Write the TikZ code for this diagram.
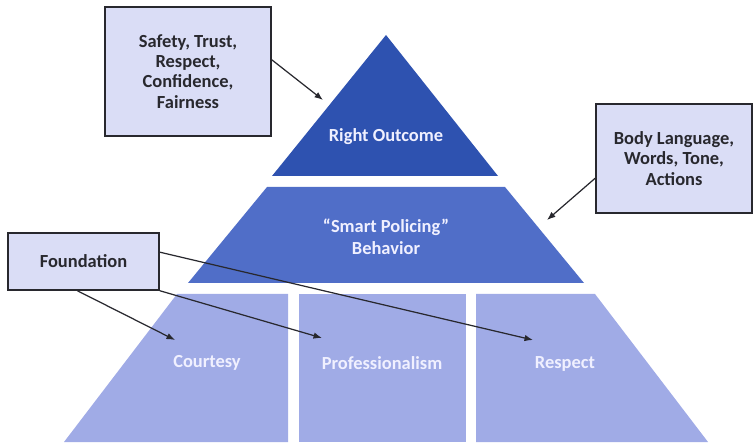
\documentclass[tikz,border=0pt]{standalone}
\usepackage{fontspec}
\setmainfont{Carlito}
\usetikzlibrary{arrows.meta}

\definecolor{topblue}{RGB}{46,82,176}
\definecolor{midblue}{RGB}{80,110,200}
\definecolor{lowblue}{RGB}{160,171,230}
\definecolor{boxfill}{RGB}{218,221,246}
\definecolor{inkgray}{RGB}{40,40,46}

\begin{document}
\begin{tikzpicture}[>={Latex[length=3.4mm,width=2.6mm]},
    text box/.style={draw=inkgray, line width=1.6pt, fill=boxfill, align=center, text=inkgray, font=\bfseries\fontsize{21}{23}\selectfont},
    level label/.style={align=center, text=white!94!blue, font=\bfseries\fontsize{21}{24.6}\selectfont},
    pointer/.style={->, draw=inkgray, line width=1.4pt}]

    \useasboundingbox (0,0) rectangle (30.12,17.84);

    % Pyramid levels
    \fill[topblue] (15.44,16.44) -- (19.92,10.8) -- (10.88,10.8) -- cycle;
    \fill[midblue] (10.68,10.36) -- (20.2,10.36) -- (23.36,6.52) -- (7.52,6.52) -- cycle;
    \fill[lowblue] (7.08,6.08) -- (11.52,6.08) -- (11.52,0.16) -- (2.56,0.16) -- cycle;
    \fill[lowblue] (11.96,6.08) rectangle (18.64,0.16);
    \fill[lowblue] (19.04,6.08) -- (23.8,6.08) -- (28.32,0.16) -- (19.04,0.16) -- cycle;

    \node[level label] (outcome) at (15.44,12.36) {Right Outcome};
    \node[level label] (behavior) at (15.44,8.36) {“Smart Policing”\\Behavior};
    \node[level label] (courtesy) at (8.28,3.32) {Courtesy};
    \node[level label] (prof) at (15.28,3.32) {Professionalism};
    \node[level label] (respect) at (22.6,3.28) {Respect};

    % Call-out boxes
    \node[text box, minimum width=6.64cm, minimum height=5.16cm] (values) at (7.52,14.98) {Safety, Trust,\\Respect,\\Confidence,\\Fairness};
    \node[text box, minimum width=6.24cm, minimum height=4.36cm] (conduct) at (26.96,11.5) {Body Language,\\Words, Tone,\\Actions};
    \node[text box, minimum width=6.04cm, minimum height=2.28cm] (found) at (3.34,7.38) {Foundation};

    % Arrow ends
    \coordinate (valuesTip) at (12.92,13.84);
    \coordinate (conductTip) at (21.88,9.04);
    \coordinate (courtesyTip) at (7.0,4.24);
    \coordinate (profTip) at (12.88,4.32);
    \coordinate (respectTip) at (21.32,4.24);

    \draw[pointer] (values.8) -- (valuesTip);
    \draw[pointer] (conduct.194) -- (conductTip);
    \draw[pointer] (found.258) -- (courtesyTip);
    \draw[pointer] (found.south east) -- (profTip);
    \draw[pointer] (found.7) -- (respectTip);

\end{tikzpicture}
\end{document}
